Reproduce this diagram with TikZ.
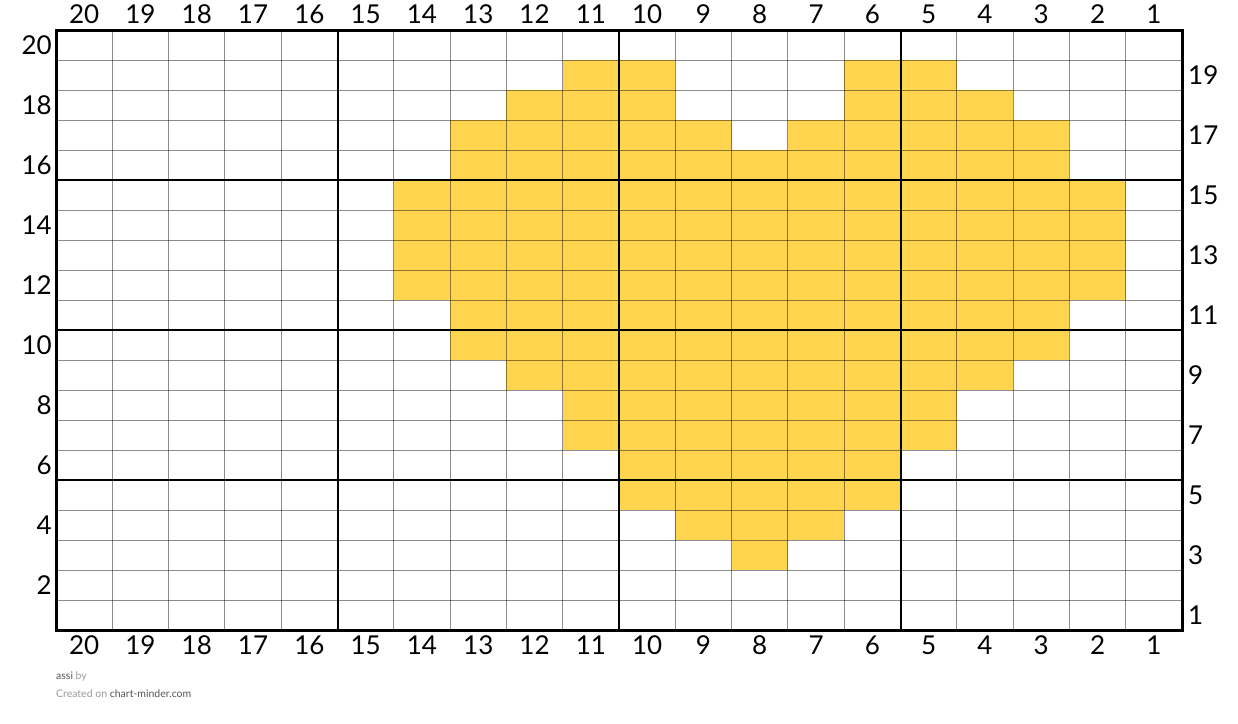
\documentclass[tikz,border=0pt]{standalone}
\usepackage{fontspec}
\setmainfont{Lato}
\definecolor{cellfill}{HTML}{FFD54F}
\definecolor{darktxt}{HTML}{555555}
\definecolor{lighttxt}{HTML}{999999}
\begin{document}
\begin{tikzpicture}[x=1pt,y=-1pt,
  numlab/.style={font=\fontsize{26}{26}\selectfont, inner sep=0pt},
  thin/.style={draw=black, draw opacity=0.45, line width=1pt},
  thick/.style={draw=black, line width=2pt},
  border/.style={draw=black, line width=3pt},
  foot/.style={font=\fontsize{10.5}{12}\selectfont, inner sep=0pt, anchor=base west}]
\useasboundingbox[fill=white] (0,0) rectangle (1238,723);
% filled cells: row, first column number, last column number (column numbers descend left to right)
\foreach \r/\a/\b in {19/11/10, 19/6/5, 18/12/10, 18/6/4, 17/13/9, 17/7/3, 16/13/3,
  15/14/2, 14/14/2, 13/14/2, 12/14/2, 11/13/3, 10/13/3, 9/12/4, 8/11/5, 7/11/5,
  6/10/6, 5/10/6, 4/9/7, 3/8/8}{
  \fill[cellfill] ({56+(20-\a)*56.3},{30+(20-\r)*30}) rectangle ({56+(21-\b)*56.3},{30+(21-\r)*30});
}
% thin grid
\foreach \i in {1,...,19}{
  \draw[thin] ({56+\i*56.3},30) -- ({56+\i*56.3},630);
  \draw[thin] (56,{30+\i*30}) -- (1182,{30+\i*30});
}
% thick grid every 5
\foreach \i in {5,10,15}{
  \draw[thick] ({56+\i*56.3},30) -- ({56+\i*56.3},630);
  \draw[thick] (56,{30+\i*30}) -- (1182,{30+\i*30});
}
\draw[border] (56,30) rectangle (1182,630);
% column numbers
\foreach \n in {1,...,20}{
  \node[numlab, anchor=base] (t\n) at ({56+(20.5-\n)*56.3},23) {\n};
  \node[numlab, anchor=base] (b\n) at ({56+(20.5-\n)*56.3},654) {\n};
}
% row numbers
\foreach \n in {2,4,...,20}{
  \node[numlab, anchor=base east] (l\n) at (52,{30+(20.5-\n)*30+9.5}) {\n};
}
\foreach \n in {1,3,...,19}{
  \node[numlab, anchor=base west] (r\n) at (1188,{30+(20.5-\n)*30+9}) {\n};
}
\node[foot] (f1) at (56,679) {\textcolor{darktxt}{assi} \textcolor{lighttxt}{by}};
\node[foot] (f2) at (56,697) {\textcolor{lighttxt}{Created on} \textcolor{darktxt}{chart-minder.com}};
\end{tikzpicture}
\end{document}
